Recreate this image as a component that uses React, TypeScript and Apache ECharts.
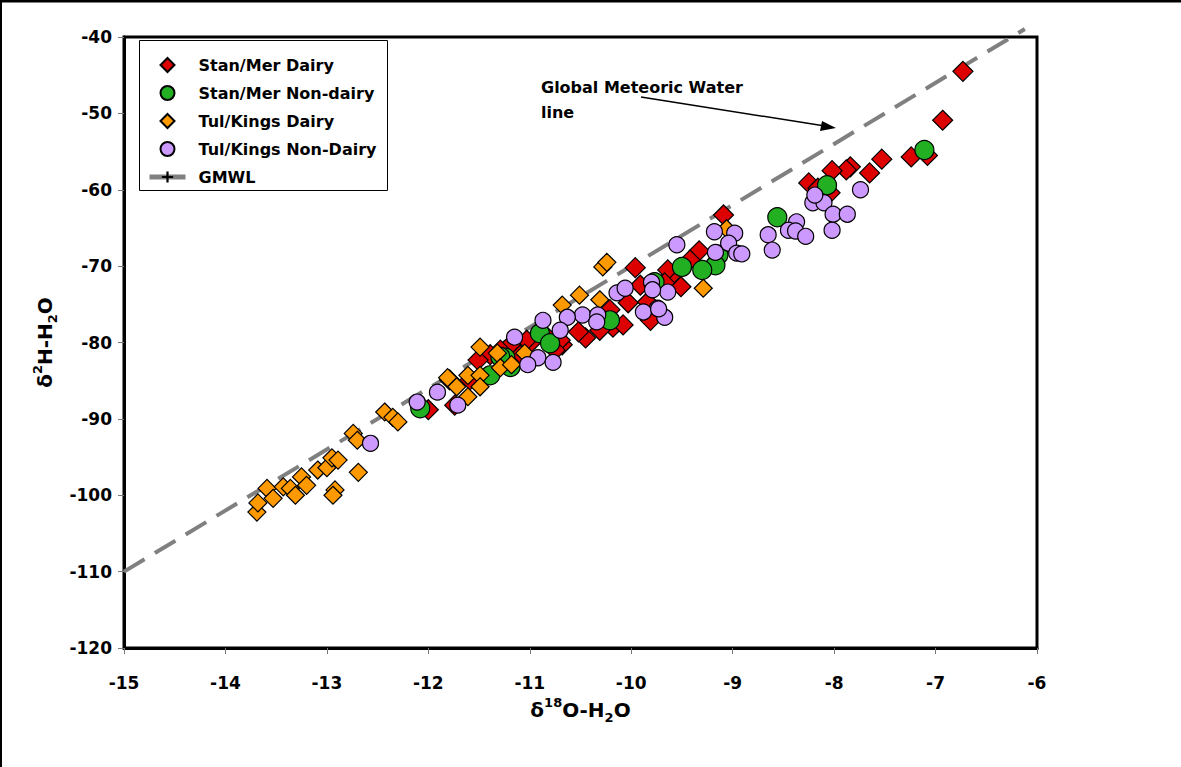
import React, { useEffect, useRef } from "react";
import * as echarts from "echarts";

const seriesNames = ["Stan/Mer Dairy", "Stan/Mer Non-dairy", "Tul/Kings Dairy", "Tul/Kings Non-Dairy", "GMWL"];

const xTicks = { min: -15, max: -6, interval: 1 };
const yTicks = { min: -120, max: -40, interval: 10 };

const stanMerDairy: [number, number][] = [
  [-6.73, -44.5], [-6.93, -50.9], [-7.24, -55.7], [-7.08, -55.5], [-7.53, -56.0], [-7.65, -57.8],
  [-7.84, -57.0], [-7.88, -57.4], [-8.02, -57.5], [-8.04, -60.4], [-8.25, -59.1], [-8.16, -59.8],
  [-9.09, -63.3], [-9.33, -68.0], [-9.42, -69.2], [-9.51, -72.7], [-9.61, -71.3], [-9.64, -70.5],
  [-9.67, -72.2], [-9.96, -70.2], [-9.91, -72.5], [-9.84, -74.7], [-9.81, -77.1], [-10.03, -74.8],
  [-10.21, -75.7], [-10.18, -78.0], [-10.08, -77.7], [-10.31, -78.4], [-10.45, -79.4], [-10.52, -78.6],
  [-10.68, -80.3], [-10.70, -79.7], [-10.75, -81.0], [-10.85, -79.0], [-10.98, -79.9], [-11.03, -79.7],
  [-11.10, -81.6], [-11.19, -80.3], [-11.29, -81.0], [-11.39, -81.6], [-11.51, -82.3], [-11.59, -84.9],
  [-11.79, -84.9], [-11.74, -88.2], [-12.00, -88.8]
];

const stanMerNonDairy: [number, number][] = [
  [-7.11, -54.8], [-8.07, -59.4], [-8.56, -63.6], [-9.14, -68.5], [-9.17, -69.9], [-9.30, -70.5],
  [-9.50, -70.1], [-9.77, -72.1], [-10.21, -77.1], [-10.90, -78.8], [-10.80, -80.1], [-11.24, -82.0],
  [-11.19, -83.2], [-11.29, -81.9], [-11.39, -84.3], [-12.08, -88.6]
];

const tulKingsDairy: [number, number][] = [
  [-13.69, -102.2], [-13.68, -101.0], [-13.59, -99.1], [-13.53, -100.4], [-13.43, -98.9], [-13.36, -99.1],
  [-13.31, -100.0], [-13.25, -97.6], [-13.20, -98.7], [-13.09, -96.7], [-13.00, -96.4], [-12.95, -95.1],
  [-12.89, -95.4], [-12.92, -99.3], [-12.94, -100.0], [-12.69, -97.0], [-12.74, -91.9], [-12.70, -92.8],
  [-12.43, -89.1], [-12.35, -89.8], [-12.30, -90.4], [-11.81, -84.6], [-11.72, -85.8], [-11.61, -84.3],
  [-11.49, -84.3], [-11.49, -85.8], [-11.61, -87.1], [-11.49, -80.6], [-11.32, -81.4], [-11.29, -83.3],
  [-11.18, -82.9], [-11.05, -81.4], [-10.68, -75.1], [-10.51, -73.8], [-10.31, -74.4], [-10.28, -70.1],
  [-10.24, -69.5], [-9.29, -72.9], [-9.06, -65.1]
];

const tulKingsNonDairy: [number, number][] = [
  [-7.74, -60.0], [-8.21, -61.7], [-8.10, -61.7], [-8.19, -60.7], [-8.01, -63.2], [-7.87, -63.2],
  [-8.02, -65.3], [-8.37, -64.2], [-8.45, -65.3], [-8.38, -65.4], [-8.28, -66.1], [-8.65, -65.9],
  [-8.61, -67.9], [-9.18, -65.5], [-8.98, -65.7], [-9.04, -67.0], [-8.96, -68.3], [-8.91, -68.4],
  [-9.17, -68.2], [-9.55, -67.2], [-9.64, -73.4], [-9.74, -75.5], [-9.67, -76.7], [-9.80, -72.1],
  [-9.79, -73.1], [-9.88, -76.0], [-9.73, -75.6], [-10.14, -73.5], [-10.06, -72.9], [-10.48, -76.4],
  [-10.33, -76.4], [-10.34, -77.3], [-10.63, -76.7], [-10.87, -77.1], [-10.70, -78.4], [-11.15, -79.3],
  [-10.92, -82.0], [-10.77, -82.6], [-11.02, -82.9], [-11.91, -86.5], [-11.71, -88.2], [-12.11, -87.8],
  [-12.57, -93.2]
];

// GMWL: d2H = 8 * d18O + 10
const gmwlSlope = 8;
const gmwlIntercept = 10;
const gmwlX = [-15, -6.12];

const diamondIcon = "path://M7,0 L14,7 L7,14 L0,7 Z";
const circleIcon = "path://M0,7 A7,7 0 1,1 14,7 A7,7 0 1,1 0,7 Z";

export default function App() {
  const ref = useRef<HTMLDivElement>(null);
  useEffect(() => {
    document.body.style.margin = "0";
    const chart = echarts.init(ref.current!, null, { renderer: "svg" });
    const font = "'DejaVu Sans', Arial, sans-serif";
    const titleRich = {
      b: { fontSize: 20, fontWeight: "bold", fontFamily: font, color: "#000", lineHeight: 28 },
      sup: { fontSize: 13, fontWeight: "bold", fontFamily: font, color: "#000", verticalAlign: "top", lineHeight: 28, padding: [0, 0, 8, 0] },
      sub: { fontSize: 13, fontWeight: "bold", fontFamily: font, color: "#000", verticalAlign: "bottom", lineHeight: 28, padding: [8, 0, 0, 0] },
    };
    const scatterBase = (name: string, data: [number, number][], color: string, symbol: string, size: number, z: number) => ({
      name,
      type: "scatter",
      data,
      symbol,
      symbolSize: size,
      z,
      itemStyle: { color, borderColor: "#000", borderWidth: 1.2, opacity: 1 },
      emphasis: { disabled: true },
    });
    chart.setOption({
      animation: false,
      backgroundColor: "#fff",
      grid: { left: 124, right: 144, top: 37, bottom: 119, show: true, borderColor: "#000", borderWidth: 3, backgroundColor: "transparent" },
      xAxis: {
        type: "value",
        min: xTicks.min, max: xTicks.max, interval: xTicks.interval,
        axisLine: { show: true, onZero: false, lineStyle: { color: "#000", width: 3 } },
        axisTick: { show: true, length: 6, inside: false, lineStyle: { color: "#777", width: 1 } },
        splitLine: { show: false },
        axisLabel: { color: "#000", fontSize: 17, fontWeight: "bold", fontFamily: font, margin: 26 },
        name: "{b|δ}{sup|18}{b|O-H}{sub|2}{b|O}",
        nameLocation: "middle",
        nameGap: 48,
        nameTextStyle: { rich: titleRich },
      },
      yAxis: {
        type: "value",
        min: yTicks.min, max: yTicks.max, interval: yTicks.interval,
        axisLine: { show: true, onZero: false, lineStyle: { color: "#000", width: 3 } },
        axisTick: { show: true, length: 6, inside: false, lineStyle: { color: "#777", width: 1 } },
        splitLine: { show: false },
        axisLabel: { color: "#000", fontSize: 17, fontWeight: "bold", fontFamily: font, margin: 12 },
        name: "{b|δ}{sup|2}{b|H-H}{sub|2}{b|O}",
        nameLocation: "middle",
        nameGap: 55,
        nameRotate: 90,
        nameTextStyle: { rich: titleRich },
      },
      legend: {
        orient: "vertical",
        left: 139,
        top: 40,
        padding: [16, 8, 5, 8],
        itemGap: 10,
        itemWidth: 36,
        itemHeight: 14,
        symbolKeepAspect: true,
        borderWidth: 0,
        textStyle: { color: "#000", fontSize: 16, fontWeight: "bold", fontFamily: font, lineHeight: 18, padding: [0, 0, 0, 8] },
        data: [
          { name: seriesNames[0], icon: diamondIcon },
          { name: seriesNames[1], icon: circleIcon },
          { name: seriesNames[2], icon: diamondIcon },
          { name: seriesNames[3], icon: circleIcon },
          { name: seriesNames[4], lineStyle: { type: "solid", width: 5, color: "#808080" } },
        ],
        selectedMode: false,
      },
      series: [
        {
          name: seriesNames[4],
          type: "line",
          data: gmwlX.map((x) => [x, gmwlSlope * x + gmwlIntercept]),
          symbol: "path://M4,0 L6,0 L6,4 L10,4 L10,6 L6,6 L6,10 L4,10 L4,6 L0,6 L0,4 L4,4 Z",
          symbolSize: 11,
          showSymbol: false,
          clip: false,
          itemStyle: { color: "#000" },
          lineStyle: { color: "#808080", width: 4, type: [24, 12] },
          z: 1,
          silent: true,
        },
        scatterBase(seriesNames[0], stanMerDairy, "#DD0000", "diamond", 20, 2),
        scatterBase(seriesNames[1], stanMerNonDairy, "#22B022", "circle", 19, 3),
        scatterBase(seriesNames[2], tulKingsDairy, "#FF9900", "diamond", 18, 4),
        scatterBase(seriesNames[3], tulKingsNonDairy, "#CC99FF", "circle", 16, 5),
      ],
      graphic: [
        { type: "line", shape: { x1: 0, y1: 1, x2: 1181, y2: 1 }, style: { stroke: "#000", lineWidth: 3 } },
        { type: "line", shape: { x1: 1, y1: 0, x2: 1, y2: 767 }, style: { stroke: "#000", lineWidth: 2 } },
        { type: "rect", shape: { x: 139.5, y: 40.5, width: 248, height: 150 }, style: { fill: "none", stroke: "#000", lineWidth: 1 }, z: 10 },
        {
          type: "text", left: 541, top: 75,
          style: { text: "Global Meteoric Water\nline", fill: "#000", font: `bold 16px ${font}`, lineHeight: 25 },
        },
        {
          type: "line", shape: { x1: 641, y1: 97, x2: 825, y2: 126 }, style: { stroke: "#000", lineWidth: 1.5 },
        },
        {
          type: "polygon", shape: { points: [[836, 128], [822, 121], [820, 131]] }, style: { fill: "#000" },
        },
      ],
    });
    return () => chart.dispose();
  }, []);
  return <div ref={ref} style={{ width: 1181, height: 767 }} />;
}
